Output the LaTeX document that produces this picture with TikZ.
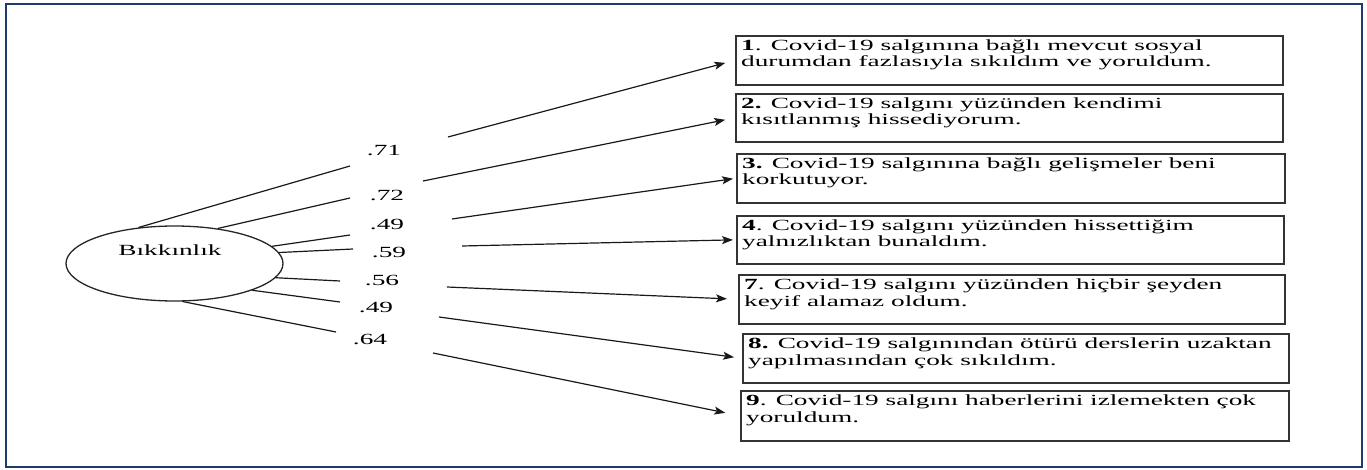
\documentclass[tikz,border=0pt]{standalone}
\usepackage{fontspec}
\setmainfont{Liberation Serif}
\usepackage{graphicx}
\usetikzlibrary{shapes.geometric,arrows.meta}
\definecolor{framecol}{HTML}{1F3A6E}
\newcommand{\wide}[1]{\scalebox{1.76}[1]{#1}}

\begin{document}
\begin{tikzpicture}[x=1pt,y=-1pt,
  every node/.style={font=\fontsize{15.5}{16.8}\selectfont},
  item/.style={draw=black!80, line width=1.6pt, minimum height=49pt,
    anchor=north west, inner sep=0pt},
  itemtext/.style={anchor=base west, align=left, inner sep=0pt,
    xshift=6pt, yshift=-32pt},
  load/.style={black!90, line width=1.2pt},
  loadarrow/.style={load, -{Stealth[length=11pt,width=8pt,inset=2.5pt]}}]
  \useasboundingbox (0,0) rectangle (1367,470);
  \draw[framecol, line width=2.2pt] (6,4) rectangle (1362,467);
  %%% latent factor
  \node[ellipse, draw=black!85, line width=1.3pt, minimum width=217pt,
    minimum height=75pt, inner sep=0pt] (lat) at (174.5,263.5) {};
  \node (latname) at (170,250) {\wide{Bıkkınlık}};
  %%% item boxes
  \node[item, minimum width=547pt] (q1) at (735,35) {};
  \node[item, minimum width=547pt, minimum height=48pt] (q2) at (735,93) {};
  \node[item, minimum width=548pt] (q3) at (736,153) {};
  \node[item, minimum width=547pt, minimum height=48pt] (q4) at (736,215) {};
  \node[item, minimum width=546pt] (q7) at (738,274) {};
  \node[item, minimum width=546pt] (q8) at (742,333) {};
  \node[item, minimum width=548pt, minimum height=50pt] (q9) at (740,390) {};
  %%% item texts
  \node[itemtext] (t1) at (q1.north west)
    {\wide{\textbf{1}. Covid-19 salgınına bağlı mevcut sosyal}\\
     \wide{durumdan fazlasıyla sıkıldım ve yoruldum.}};
  \node[itemtext] (t2) at (q2.north west)
    {\wide{\textbf{2.} Covid-19 salgını yüzünden kendimi}\\
     \wide{kısıtlanmış hissediyorum.}};
  \node[itemtext] (t3) at (q3.north west)
    {\wide{\textbf{3.} Covid-19 salgınına bağlı gelişmeler beni}\\
     \wide{korkutuyor.}};
  \node[itemtext] (t4) at (q4.north west)
    {\wide{\textbf{4}. Covid-19 salgını yüzünden hissettiğim}\\
     \wide{yalnızlıktan bunaldım.}};
  \node[itemtext] (t7) at (q7.north west)
    {\wide{\textbf{7}. Covid-19 salgını yüzünden hiçbir şeyden}\\
     \wide{keyif alamaz oldum.}};
  \node[itemtext] (t8) at (q8.north west)
    {\wide{\textbf{8.} Covid-19 salgınından ötürü derslerin uzaktan}\\
     \wide{yapılmasından çok sıkıldım.}};
  \node[itemtext] (t9) at (q9.north west)
    {\wide{\textbf{9}. Covid-19 salgını haberlerini izlemekten çok}\\
     \wide{yoruldum.}};
  %%% gaps around the loadings
  \path (350,166) coordinate (a1);  \path (448,137) coordinate (b1);
  \path (350,198) coordinate (a2);  \path (423,181) coordinate (b2);
  \path (350,235) coordinate (a3);  \path (452,219) coordinate (b3);
  \path (353,249) coordinate (a4);  \path (462,246) coordinate (b4);
  \path (340,281) coordinate (a7);  \path (447,287) coordinate (b7);
  \path (340,302) coordinate (a8);  \path (439,317) coordinate (b8);
  \path (336,332) coordinate (a9);  \path (433,353) coordinate (b9);
  %%% loadings
  \node (l1) at (384,150) {\wide{.71}};
  \node (l2) at (387,195) {\wide{.72}};
  \node (l3) at (387,224) {\wide{.49}};
  \node (l4) at (389,252) {\wide{.59}};
  \node (l7) at (382,280) {\wide{.56}};
  \node (l8) at (376,307) {\wide{.49}};
  \node (l9) at (370,339) {\wide{.64}};
  %%% paths
  \draw[load] (lat.135) -- (a1);
  \draw[load] (lat.39) -- (a2);
  \draw[load] (lat.10) -- (a3);
  \draw[load] (lat.6) -- (a4);
  \draw[load] (lat.-8) -- (a7);
  \draw[load] (lat.-19) -- (a8);
  \draw[load] (lat.-78) -- (a9);
  \draw[loadarrow, shorten >=10pt] (b1) -- (q1.west);
  \draw[loadarrow, shorten >=10pt] (b2) -- (q2.west);
  \draw[loadarrow, shorten >=3pt] (b3) -- (q3.west);
  \draw[loadarrow, shorten >=3pt] (b4) -- (q4.west);
  \draw[loadarrow, shorten >=11pt] (b7) -- (q7.west);
  \draw[loadarrow, shorten >=8pt] (b8) -- (q8.west);
  \draw[loadarrow, shorten >=15pt] (b9) -- (q9.west);
\end{tikzpicture}
\end{document}
